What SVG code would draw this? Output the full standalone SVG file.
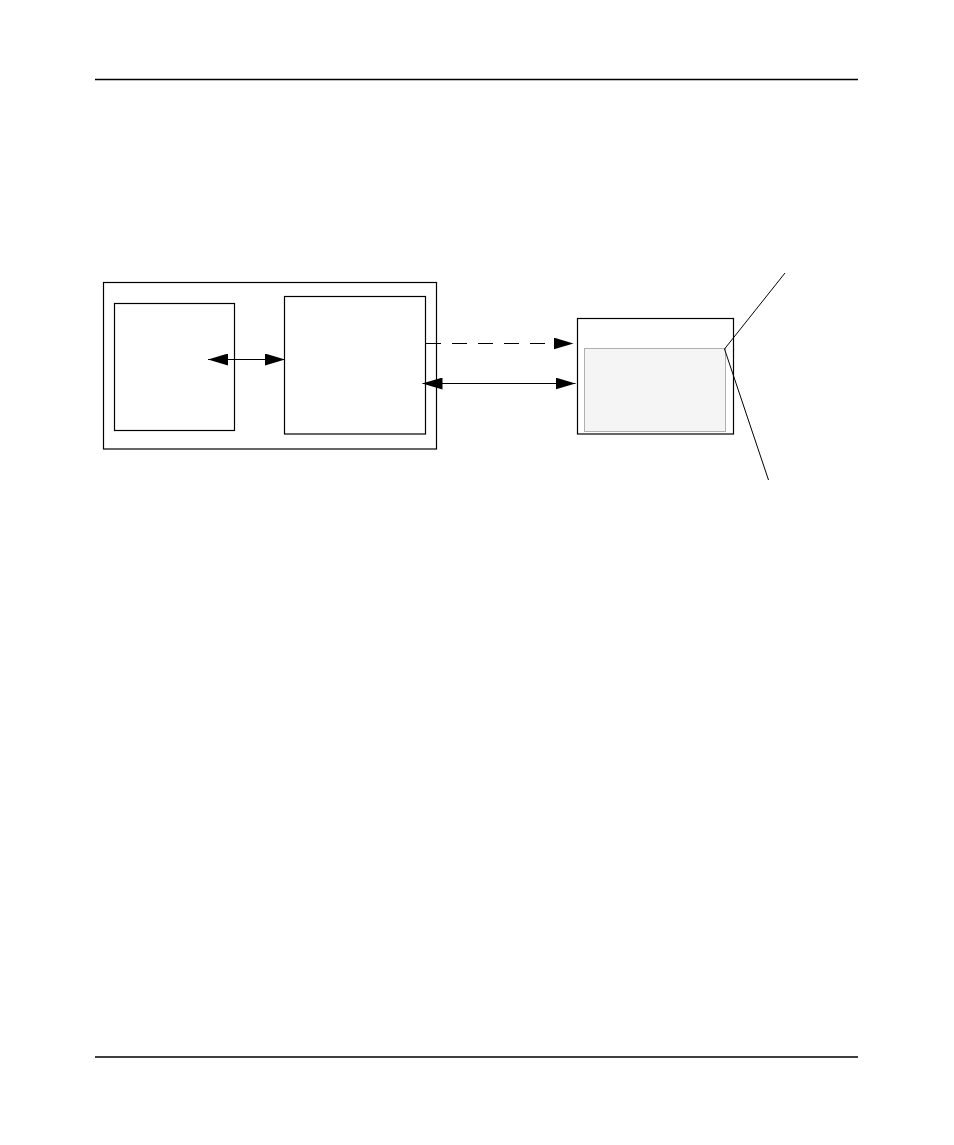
<svg xmlns="http://www.w3.org/2000/svg" width="954" height="1145" viewBox="0 0 954 1145">
<style>
.box{fill:#fff;stroke:#000;stroke-width:1.2}
.rule{stroke:#000;stroke-width:1.3}
.conn{stroke:#000;stroke-width:1.2;fill:none}
.lead{stroke:#000;stroke-width:1;fill:none}
</style>
<defs>
<marker id="ah" viewBox="0 0 20 12" refX="20" refY="6" markerWidth="20" markerHeight="12" markerUnits="userSpaceOnUse" orient="auto-start-reverse">
<path d="M0,0 L20,6 L0,12 Z" fill="#000"/>
</marker>
</defs>
<rect width="954" height="1145" fill="#fff"/>
<line class="rule" x1="95" y1="79.5" x2="858" y2="79.5"/>
<line class="rule" x1="95" y1="1057" x2="858" y2="1057"/>
<g id="outer"><rect class="box" x="103.5" y="282.5" width="333" height="166.5"/></g>
<g id="left-box"><rect class="box" x="114.5" y="303.5" width="120" height="127"/></g>
<g id="middle-box"><rect class="box" x="284.5" y="296.5" width="141" height="137.5"/></g>
<g id="right-box"><rect class="box" x="577.5" y="318.5" width="156" height="115.5"/>
<rect x="584.5" y="348.5" width="141" height="83" fill="#f5f5f5" stroke="#b0b0b0" stroke-width="1"/></g>
<g id="connectors">
<line class="conn" x1="208" y1="359.5" x2="285" y2="359.5" marker-start="url(#ah)" marker-end="url(#ah)"/>
<line class="conn" x1="426" y1="343.5" x2="573.5" y2="343.5" stroke-dasharray="15,11" marker-end="url(#ah)"/>
<line class="conn" x1="422.5" y1="383.5" x2="575.5" y2="383.5" marker-start="url(#ah)" marker-end="url(#ah)"/>
<polyline class="lead" points="785,273 724.5,349 768.5,480"/>
</g>
</svg>
